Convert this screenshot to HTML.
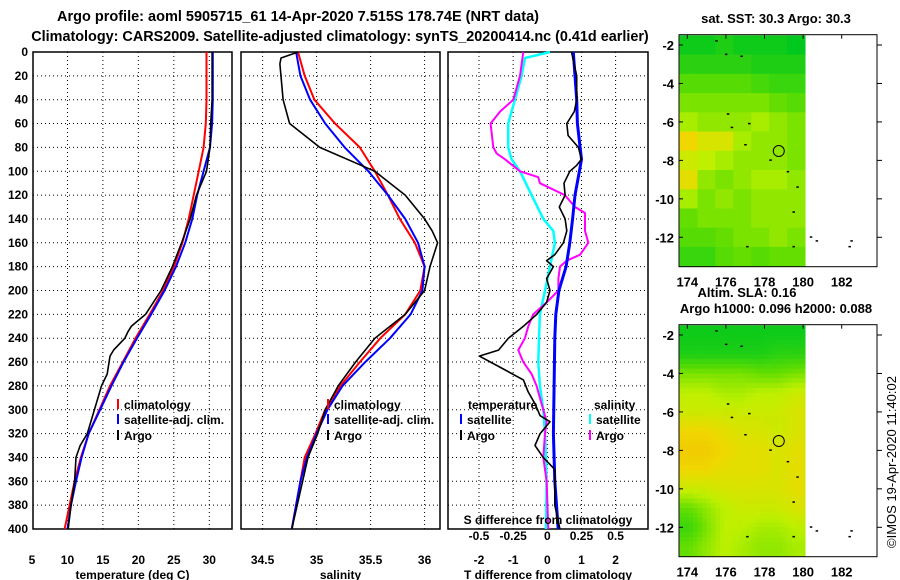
<!DOCTYPE html>
<html><head><meta charset="utf-8"><style>
body{margin:0;background:#fff;}
svg{display:block;font-family:"Liberation Sans",Arial,sans-serif;font-weight:bold;}
</style></head><body>
<svg id="c" width="900" height="580" viewBox="0 0 900 580" xmlns="http://www.w3.org/2000/svg">
<g id="g"></g>
<text x="298" y="21" text-anchor="middle" font-size="14.5">Argo profile: aoml 5905715_61 14-Apr-2020 7.515S 178.74E (NRT data)</text>
<text x="340" y="41" text-anchor="middle" font-size="14.4">Climatology: CARS2009. Satellite-adjusted climatology: synTS_20200414.nc (0.41d earlier)</text>
<text x="776" y="23" text-anchor="middle" font-size="13">sat. SST: 30.3 Argo: 30.3</text>
<text x="747" y="297" text-anchor="middle" font-size="13">Altim. SLA: 0.16</text>
<text x="776" y="313" text-anchor="middle" font-size="13">Argo h1000: 0.096 h2000: 0.088</text>
<text transform="translate(896,462) rotate(-90)" text-anchor="middle" font-size="13" font-weight="normal">©IMOS 19-Apr-2020 11:40:02</text>
</svg>
<script>
// depths
const depths = [0,20,40,60,80,100,120,140,160,180,200,220,240,260,280,300,320,340,360,380,400];
const tClim = [29.6,29.6,29.6,29.5,29.2,28.5,27.8,27.1,26.2,25.0,23.5,21.6,19.6,17.8,16.0,14.5,13.0,11.9,11.0,10.3,9.6];
const tSat = [30.5,30.5,30.5,30.4,30.1,29.2,28.3,27.6,26.6,25.3,23.7,21.8,19.8,17.9,16.2,14.6,13.0,12.0,11.2,10.5,10.0];
const argoTDepth = [0,20,40,60,80,100,120,140,160,180,200,220,230,235,240,250,255,270,280,300,320,330,340,360,380,400];
const argoT = [30.4,30.4,30.4,30.2,30.1,29.6,28.2,27.3,26.1,24.8,23.2,21.0,19.0,18.5,18.1,16.5,16.0,15.6,14.8,13.8,12.8,11.8,11.2,11.0,10.5,10.1];
const sClim = [34.828,34.89,34.98,35.17,35.40,35.54,35.66,35.77,35.91,36.0,35.96,35.82,35.59,35.40,35.22,35.08,34.99,34.89,34.85,34.81,34.77];
const sSat = [34.81,34.85,34.94,35.08,35.26,35.48,35.66,35.82,35.94,36.0,35.98,35.87,35.68,35.45,35.24,35.10,35.0,34.91,34.85,34.81,34.77];
const argoSDepth = [0,5,10,40,60,80,100,120,140,150,160,180,200,220,240,260,280,300,320,340,360,400];
const argoS = [34.83,34.67,34.66,34.69,34.75,35.03,35.54,35.82,36.0,36.07,36.12,36.05,36.0,35.82,35.54,35.36,35.2,35.08,35.01,34.92,34.87,34.77];
const dTSatDepth = [0,20,40,60,80,90,100,120,140,160,180,200,220,240,280,320,360,380,400];
const dTSat = [0.76,0.81,0.86,0.88,0.96,1.0,0.94,0.81,0.74,0.66,0.55,0.34,0.25,0.22,0.2,0.18,0.22,0.27,0.32];
const dTArgoDepth = [0,20,40,50,60,70,80,90,95,100,110,120,130,140,150,160,170,175,180,190,200,210,220,230,240,250,255,265,275,285,295,305,310,320,330,340,350,360,380,400];
const dTArgo = [0.71,0.86,0.86,0.79,0.57,0.61,0.91,1.0,0.86,0.66,0.49,0.52,0.35,0.52,0.57,0.47,0.22,-0.02,0.18,-0.02,0.08,-0.02,-0.31,-0.70,-1.14,-1.43,-1.99,-1.34,-0.70,-0.56,-0.36,-0.21,0.08,-0.21,-0.36,-0.12,0.22,0.22,0.22,0.37];
const dSSatDepth = [0,5,20,40,60,80,90,100,120,140,150,160,180,200,220,240,260,280,300,320,360,400];
const dSSat = [0.02,-0.163,-0.188,-0.237,-0.286,-0.286,-0.261,-0.2,-0.115,-0.029,0.044,0.056,0.02,-0.017,-0.054,-0.061,-0.066,-0.054,-0.029,-0.017,-0.005,-0.01];
const dSArgoDepth = [0,20,40,50,60,80,85,90,100,105,110,120,130,135,150,160,170,175,180,190,200,210,220,230,240,250,260,270,280,290,300,310,320,340,360,400];
const dSArgo = [-0.176,-0.2,-0.249,-0.346,-0.415,-0.395,-0.371,-0.31,-0.2,-0.066,-0.054,0.129,0.203,0.276,0.276,0.3,0.24,0.141,0.093,0.081,0.081,-0.005,-0.103,-0.139,-0.164,-0.212,-0.176,-0.115,-0.078,-0.054,-0.029,-0.005,-0.017,-0.029,-0.005,0.007];
const depthTicks = [0,20,40,60,80,100,120,140,160,180,200,220,240,260,280,300,320,340,360,380,400];
const tTicks = [5,10,15,20,25,30];
const sTicks = [34.5,35,35.5,36];
const dTTicks = [-2,-1,0,1,2];
const dSTicks = [-0.5,-0.25,0,0.25,0.5];
const dSTickLabels = ["-0.5","-0.25","0","0.25","0.5"];
const latTicks = [-2,-4,-6,-8,-10,-12];
const lonTicks = [174,176,178,180,182];
const sstGrid = [
[0.05,0.05,0.1,0.05,0.05,0.05,0.0],
[0.15,0.15,0.15,0.15,0.1,0.1,0.1],
[0.3,0.3,0.3,0.3,0.25,0.2,0.2],
[0.4,0.4,0.4,0.4,0.4,0.35,0.3],
[0.5,0.45,0.45,0.45,0.5,0.45,0.4],
[0.75,0.65,0.65,0.5,0.45,0.45,0.4],
[0.6,0.55,0.5,0.45,0.45,0.45,0.4],
[0.7,0.45,0.4,0.45,0.5,0.5,0.45],
[0.5,0.4,0.45,0.4,0.45,0.45,0.45],
[0.35,0.4,0.4,0.4,0.45,0.45,0.45],
[0.3,0.3,0.35,0.4,0.4,0.45,0.4],
[0.2,0.2,0.3,0.35,0.3,0.35,0.35]];
const slaGrid = [
[0.05,0.05,0.05,0.05,0.05,0.05,0.05],
[0.1,0.1,0.1,0.1,0.1,0.15,0.15],
[0.4,0.4,0.4,0.4,0.35,0.35,0.4],
[0.55,0.55,0.5,0.5,0.55,0.55,0.6],
[0.6,0.6,0.6,0.6,0.6,0.6,0.65],
[0.75,0.75,0.7,0.65,0.65,0.6,0.65],
[0.8,0.8,0.75,0.7,0.7,0.65,0.7],
[0.75,0.75,0.7,0.7,0.7,0.65,0.7],
[0.6,0.6,0.65,0.65,0.65,0.65,0.7],
[0.35,0.45,0.55,0.6,0.6,0.6,0.65],
[0.2,0.4,0.55,0.55,0.5,0.5,0.55],
[0.35,0.45,0.55,0.5,0.45,0.45,0.5]];
const floatLon = [175.5,176.0,176.8,176.1,177.2,176.3,177.0,178.3,179.2,179.7,179.5,177.1,179.5,180.4,180.7,182.5,182.4];
const floatLat = [-1.8,-2.5,-2.6,-5.6,-6.1,-6.3,-7.2,-8.0,-8.6,-9.4,-10.7,-12.5,-12.5,-12.0,-12.2,-12.2,-12.5];
const argoLon = 178.74, argoLat = -7.515;

const NS="http://www.w3.org/2000/svg";
const G=document.getElementById('g');
function mk(tag,attrs,parent){const e=document.createElementNS(NS,tag);for(const k in attrs)e.setAttribute(k,attrs[k]);(parent||G).appendChild(e);return e;}
const yTop=52,yBot=529;
const yD=d=>yTop+(d/400)*(yBot-yTop);
function lin(d0,d1,r0,r1){return v=>r0+(v-d0)/(d1-d0)*(r1-r0);}
const xT=lin(5,30,32,209.3), xS=lin(34.5,36,262.6,424.6), xDT=lin(0,1,547.3,581.45), xDS=v=>xDT(v*4);

function panel(x0,x1,xs,ticks,labels,name,title){
  const g=mk('g',{});
  
  
  depthTicks.forEach(d=>{ if(d>0&&d<400){const l=mk('line',{x1:x0,x2:x1,y1:yD(d),y2:yD(d),stroke:'#000','stroke-width':1,'stroke-dasharray':'1,3'},g);
    }});
  ticks.forEach((t,i)=>{const x=xs(t); if(x>x0+2&&x<x1-2){const l=mk('line',{x1:x,x2:x,y1:yTop,y2:yBot,stroke:'#000','stroke-width':1,'stroke-dasharray':'1,3'},g);
    }
    const tx=mk('text',{x:x,y:564,'text-anchor':'middle','font-size':12},g);tx.textContent=labels[i];
    });
  const r=mk('rect',{x:x0,y:yTop,width:x1-x0,height:yBot-yTop,fill:'none',stroke:'#000','stroke-width':1.5},g);
  
  const tt=mk('text',{x:(x0+x1)/2,y:579,'text-anchor':'middle','font-size':12},g);tt.textContent=title;
  
  return g;
}
function line(xs,vals,ds,color,w,name,g){
  const p=vals.map((v,i)=>xs(v).toFixed(1)+','+yD(ds[i]).toFixed(1)).join(' ');
  const e=mk('polyline',{points:p,fill:'none',stroke:color,'stroke-width':w,'stroke-linejoin':'round'},g);
  
  
}
function legend(x,y,color,label,g){
  const l=mk('line',{x1:x,x2:x,y1:y-10,y2:y,stroke:color,'stroke-width':2},g);
  
  const t=mk('text',{x:x+6,y:y,'font-size':12},g);t.textContent=label;
  
}
// panel 1
const p1=panel(33,232,xT,tTicks,tTicks.map(String),'temperature-panel','temperature (deg C)');
depthTicks.forEach(d=>{const t=mk('text',{x:28,y:yD(d)+4,'text-anchor':'end','font-size':12},p1);t.textContent=d;
  });
line(xT,tClim,depths,'#f00',2,'temperature-climatology-line',p1);
line(xT,tSat,depths,'#00f',2,'temperature-satellite-line',p1);
line(xT,argoT,argoTDepth,'#000',1.6,'temperature-argo-line',p1);
legend(118,409,'#f00','climatology',p1);legend(118,424,'#00f','satellite-adj. clim.',p1);legend(118,440,'#000','Argo',p1);
// panel 2
const p2=panel(241,440,xS,sTicks,sTicks.map(String),'salinity-panel','salinity');
line(xS,sClim,depths,'#f00',2,'salinity-climatology-line',p2);
line(xS,sSat,depths,'#00f',2,'salinity-satellite-line',p2);
line(xS,argoS,argoSDepth,'#000',1.6,'salinity-argo-line',p2);
legend(328,409,'#f00','climatology',p2);legend(328,424,'#00f','satellite-adj. clim.',p2);legend(328,440,'#000','Argo',p2);
// panel 3
const p3=panel(448,648,xDT,dTTicks,dTTicks.map(String),'difference-panel','T difference from climatology');
line(xDS,dSSat,dSSatDepth,'#0ff',2.5,'salinity-diff-satellite-line',p3);
line(xDS,dSArgo,dSArgoDepth,'#f0f',2,'salinity-diff-argo-line',p3);
line(xDT,dTSat,dTSatDepth,'#00f',3,'temperature-diff-satellite-line',p3);
line(xDT,dTArgo,dTArgoDepth,'#000',1.6,'temperature-diff-argo-line',p3);
{const t=mk('text',{x:468,y:409,'font-size':12},p3);t.textContent='temperature';
 const s=mk('text',{x:594,y:409,'font-size':12},p3);s.textContent='salinity';}
legend(461,424,'#00f','satellite',p3);legend(461,440,'#000','Argo',p3);
legend(590,424,'#0ff','satellite',p3);legend(590,440,'#f0f','Argo',p3);
{const t=mk('text',{x:548,y:524,'text-anchor':'middle','font-size':12},p3);t.textContent='S difference from climatology';
 
 dSTicks.forEach((v,i)=>{const e=mk('text',{x:xDS(v),y:540,'text-anchor':'middle','font-size':12},p3);e.textContent=dSTickLabels[i];
  });}

// maps
function col(v){const st=[[0,[0,200,30]],[0.35,[100,222,0]],[0.55,[190,240,0]],[0.75,[240,215,0]],[1,[240,150,0]]];
  for(let i=1;i<st.length;i++){if(v<=st[i][0]){const a=st[i-1],b=st[i],f=(v-a[0])/(b[0]-a[0]);
    return 'rgb('+a[1].map((c,k)=>Math.round(c+(b[1][k]-c)*f)).join(',')+')';}}return 'rgb(240,150,0)';}
function map(top,bot,grid,smooth,name){
  const g=mk('g',{});
  const x0=679,x1=877;
  const xL=lin(174,182,687.3,841.7), yL=lin(-2,-12,top+10.3,top+202.6);
  const lon0=173.6,lon1=180.1,lat0=-1.5,lat1=-13.5;
  const nr=grid.length,nc=grid[0].length;
  const sub=smooth?4:2;
  for(let r=0;r<nr*sub;r++)for(let c=0;c<nc*sub;c++){
    let v;
    if(smooth){const fr=Math.min(Math.max((r+0.5)/sub-0.5,0),nr-1),fc=Math.min(Math.max((c+0.5)/sub-0.5,0),nc-1);
      const r0=Math.floor(fr),c0=Math.floor(fc),r1=Math.min(r0+1,nr-1),c1=Math.min(c0+1,nc-1),a=fr-r0,b=fc-c0;
      v=grid[r0][c0]*(1-a)*(1-b)+grid[r1][c0]*a*(1-b)+grid[r0][c1]*(1-a)*b+grid[r1][c1]*a*b;}
    else v=grid[Math.floor(r/sub)][Math.floor(c/sub)];
    const la=lat0+(lat1-lat0)*r/(nr*sub), la2=lat0+(lat1-lat0)*(r+1)/(nr*sub);
    const lo=lon0+(lon1-lon0)*c/(nc*sub), lo2=lon0+(lon1-lon0)*(c+1)/(nc*sub);
    const e=mk('rect',{x:xL(lo),y:yL(la),width:xL(lo2)-xL(lo)+0.5,height:yL(la2)-yL(la)+0.5,fill:col(v)},g);
    
  }
  const fr=mk('rect',{x:x0,y:top,width:x1-x0,height:bot-top,fill:'none',stroke:'#000','stroke-width':1},g);
  
  latTicks.forEach(t=>{const y=yL(t);
    const a=mk('line',{x1:x0,x2:x0+4,y1:y,y2:y,stroke:'#000'},g);
    const b=mk('line',{x1:x1,x2:x1+5,y1:y,y2:y,stroke:'#000'},g);
    const tx=mk('text',{x:674,y:y+5,'text-anchor':'end','font-size':13},g);tx.textContent=t;
    });
  lonTicks.forEach(t=>{const x=xL(t);
    const a=mk('line',{x1:x,x2:x,y1:top,y2:top+4,stroke:'#000'},g);
    const tx=mk('text',{x:x,y:bot+20,'text-anchor':'middle','font-size':13},g);tx.textContent=t;
    });
  floatLon.forEach((lo,i)=>{const e=mk('rect',{x:xL(lo)-1,y:yL(floatLat[i])-1,width:2.5,height:1.5,fill:'#000'},g);
    });
  const c=mk('circle',{cx:xL(argoLon),cy:yL(argoLat),r:5.5,fill:'none',stroke:'#000','stroke-width':1},g);
  
}
map(34.7,266.7,sstGrid,false,'sst-map');
map(324.7,556.7,slaGrid,true,'sla-map');
</script>
</body></html>
